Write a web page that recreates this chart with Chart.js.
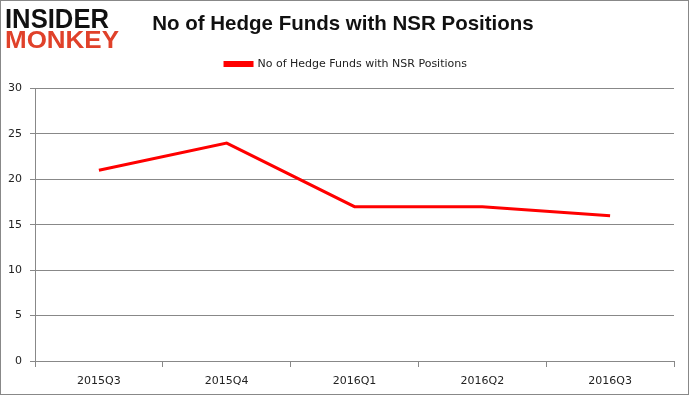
<!DOCTYPE html>
<html>
<head>
<meta charset="utf-8">
<script src="https://cdn.jsdelivr.net/npm/chart.js@4/dist/chart.umd.min.js"></script>
<style>
html,body{margin:0;padding:0;background:#fff;}
#wrap{width:689px;height:396px;position:relative;}
</style>
</head>
<body>
<div id="wrap"><canvas id="c" width="689" height="396"></canvas></div>
<script>
const categories = ["2015Q3", "2015Q4", "2016Q1", "2016Q2", "2016Q3"];
const seriesName = "No of Hedge Funds with NSR Positions";
const hedgeFunds = [21, 24, 17, 17, 16];
const yTicks = [0, 5, 10, 15, 20, 25, 30];
const chartTitle = "No of Hedge Funds with NSR Positions";

const legendSpace = {
  id: 'legendSpace',
  beforeLayout(chart) {
    const lg = chart.legend;
    if (lg && !lg._patched) {
      const orig = lg.fit;
      lg.fit = function () { orig.call(this); this.height += 9; };
      lg._patched = true;
    }
  },
  afterLayout(chart) {
    if (chart.titleBlock) { chart.titleBlock.left += 6; chart.titleBlock.right += 6; }
    if (chart.legend) { chart.legend.left += 9; chart.legend.right += 9; }
  }
};

const frame = {
  id: 'frame',
  afterDraw(chart) {
    const ctx = chart.ctx;
    ctx.save();
    ctx.strokeStyle = '#888888';
    ctx.lineWidth = 1;
    ctx.strokeRect(0.5, 0.5, 688, 394);
    ctx.textBaseline = 'alphabetic';
    ctx.textAlign = 'left';
    ctx.fillStyle = '#111111';
    ctx.font = 'bold 27px "Liberation Sans", Arial, sans-serif';
    let w = ctx.measureText('INSIDER').width;
    ctx.save();
    ctx.translate(5, 28);
    ctx.scale(104 / w, 1);
    ctx.fillText('INSIDER', 0, 0);
    ctx.restore();
    ctx.fillStyle = '#e0412a';
    ctx.font = 'bold 24px "Liberation Sans", Arial, sans-serif';
    w = ctx.measureText('MONKEY').width;
    ctx.save();
    ctx.translate(5, 48);
    ctx.scale(114 / w, 1);
    ctx.fillText('MONKEY', 0, 0);
    ctx.restore();
    ctx.restore();
  }
};

new Chart(document.getElementById('c'), {
  type: 'line',
  data: {
    labels: categories,
    datasets: [{
      label: seriesName,
      data: hedgeFunds,
      borderColor: '#ff0000',
      backgroundColor: '#ff0000',
      borderWidth: 3,
      pointRadius: 0,
      tension: 0,
      fill: false
    }]
  },
  options: {
    responsive: false,
    animation: false,
    devicePixelRatio: 1,
    layout: { padding: { left: 0, right: 15, top: 0, bottom: 0 } },
    plugins: {
      title: {
        display: true,
        text: chartTitle,
        color: '#111111',
        font: { family: '"Liberation Sans", Arial, sans-serif', size: 20.5, weight: 'bold' },
        padding: { top: 12, bottom: 10 }
      },
      legend: {
        display: true,
        labels: {
          boxWidth: 27,
          boxHeight: 3,
          color: '#222222',
          font: { family: '"DejaVu Sans", Verdana, sans-serif', size: 11 },
          padding: 12
        }
      },
      tooltip: { enabled: false }
    },
    scales: {
      x: {
        offset: true,
        grid: { display: true, drawOnChartArea: false, drawTicks: true, tickLength: 6, offset: true, color: '#888888' },
        border: { display: true, color: '#888888' },
        ticks: { color: '#222222', font: { family: '"DejaVu Sans", Verdana, sans-serif', size: 11 }, padding: 8 },
        afterFit(scale) { scale.height = 35; }
      },
      y: {
        min: 0,
        max: 30,
        afterBuildTicks(scale) { scale.ticks = yTicks.map(v => ({ value: v })); },
        grid: { color: '#888888', drawTicks: true, tickLength: 5 },
        border: { display: true, color: '#888888' },
        ticks: { color: '#222222', font: { family: '"DejaVu Sans", Verdana, sans-serif', size: 11 }, padding: 8 },
        afterFit(scale) { scale.width = 35; }
      }
    }
  },
  plugins: [legendSpace, frame]
});
</script>
</body>
</html>
